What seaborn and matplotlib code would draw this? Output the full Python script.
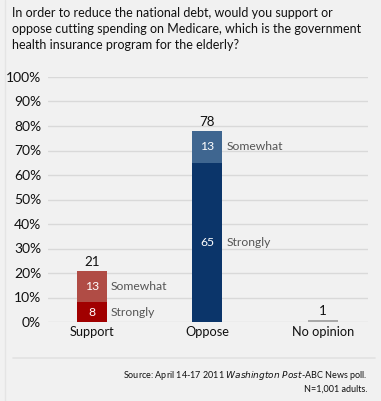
import matplotlib
matplotlib.use("Agg")
import matplotlib.pyplot as plt
import seaborn as sns
import pandas as pd

categories = ["Support", "Oppose", "No opinion"]
totals = [21, 78, 1]
strongly = [8, 65, 0]
somewhat = [13, 13, 0]
yticks = [0, 10, 20, 30, 40, 50, 60, 70, 80, 90, 100]
ytick_labels = [f"{v}%" for v in yticks]

sns.set_theme(style="white")
plt.rcParams["font.family"] = ["Lato", "DejaVu Sans"]

BG = "#f1f1f1"
fig = plt.figure(figsize=(3.81, 4.01), dpi=100, facecolor=BG)
ax = fig.add_axes([48/381, 1-322/401, 320/381, 245/401])
ax.set_facecolor(BG)

df = pd.DataFrame({"cat": categories, "total": totals, "strong": strongly})
top_colors = ["#b04c45", "#3f6690", "#a9a9a9"]
bot_colors = ["#a10000", "#0b356a", "#a9a9a9"]

sns.barplot(data=df, x="cat", y="total", hue="cat", palette=top_colors,
            width=0.26, ax=ax, legend=False, saturation=1, zorder=3, linewidth=0)
sns.barplot(data=df, x="cat", y="strong", hue="cat", palette=bot_colors,
            width=0.26, ax=ax, legend=False, saturation=1, zorder=3, linewidth=0)

ax.set_ylim(0, 100)
ax.set_xlim(-0.38, 2.39)
ax.set_yticks(yticks)
ax.set_yticklabels(ytick_labels, fontsize=10, color="#111111")
ax.yaxis.grid(True, color="#d9d9d9", linewidth=1, zorder=0)
ax.set_axisbelow(True)
for s in ax.spines.values():
    s.set_visible(False)
ax.tick_params(axis="y", length=0, pad=5)
ax.tick_params(axis="x", length=0, pad=3, labelsize=9.2, labelcolor="#111111")
ax.set_xlabel("")
ax.set_ylabel("")

# labels
for i, (t, s, w) in enumerate(zip(totals, strongly, somewhat)):
    ax.text(i, t + 1.0, str(t), ha="center", va="bottom", fontsize=9.6, color="#111111")
    if s > 0:
        ax.text(i, s / 2, str(s), ha="center", va="center", fontsize=8.8, color="white")
        ax.text(i + 0.165, s / 2, "Strongly", ha="left", va="center", fontsize=8.7, color="#555555")
    if w > 0:
        ax.text(i, s + w / 2, str(w), ha="center", va="center", fontsize=8.8, color="white")
        ax.text(i + 0.165, s + w / 2, "Somewhat", ha="left", va="center", fontsize=8.7, color="#555555")

title = ("In order to reduce the national debt, would you support or\n"
         "oppose cutting spending on Medicare, which is the government\n"
         "health insurance program for the elderly?")
fig.text(12/381, 1-7/401, title, ha="left", va="top", fontsize=9.0,
         color="#111111", linespacing=1.42)

fig.add_artist(plt.Line2D([13/381, 375/381], [1-358/401, 1-358/401],
                          color="#e2e2e2", linewidth=1.2, transform=fig.transFigure))
fig.add_artist(plt.Line2D([5/381, 5/381], [0, 1], color="#e4e4e4",
                          linewidth=1, transform=fig.transFigure))

fig.text(368/381, 1-375/401,
         r"Source: April 14-17 2011 $\it{Washington\ Post}$-ABC News poll.",
         ha="right", va="center", fontsize=6.5, color="#111111")
fig.text(368/381, 1-389/401, "N=1,001 adults.", ha="right", va="center",
         fontsize=6.5, color="#111111")

fig.savefig("out.png", dpi=100, facecolor=BG)
